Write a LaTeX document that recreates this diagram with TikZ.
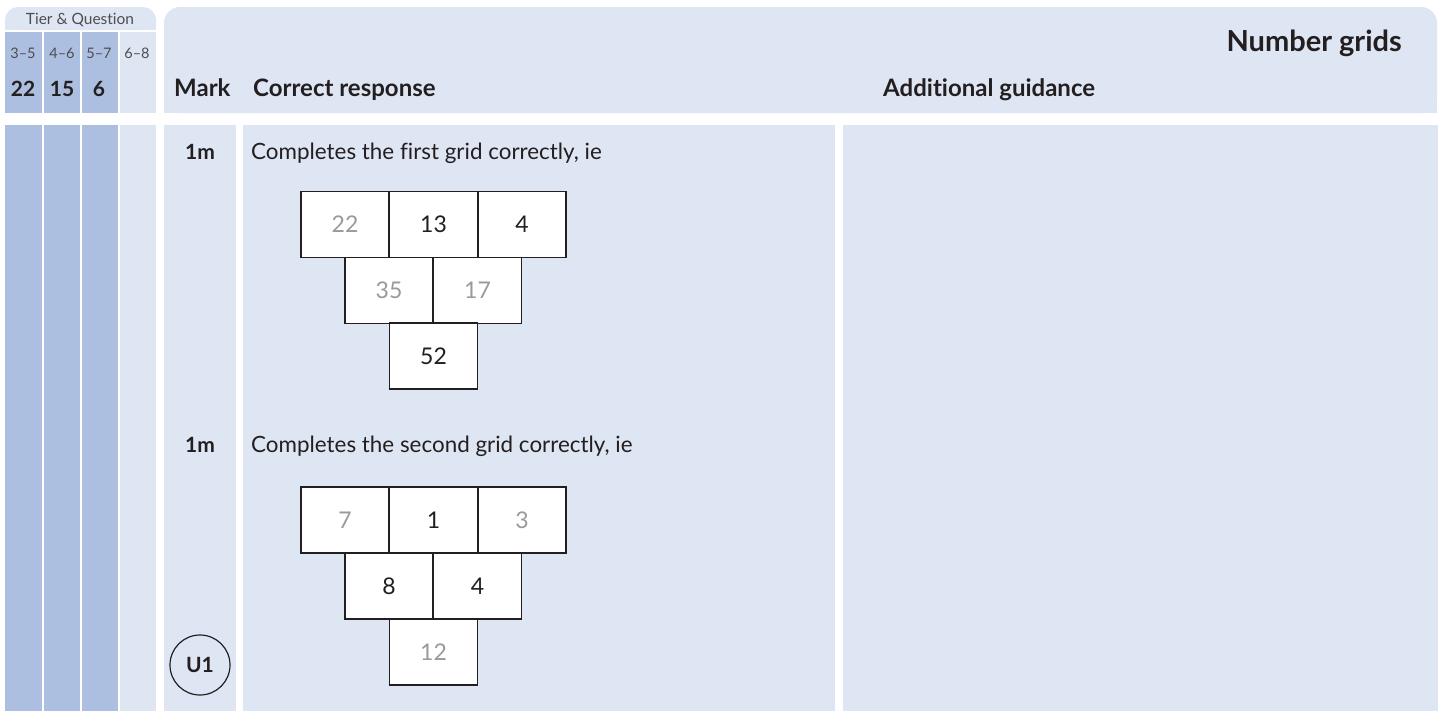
\documentclass[tikz,border=0pt]{standalone}
\usepackage{fontspec}
\setmainfont{Lato}[Ligatures=NoCommon]
\definecolor{ink}{HTML}{231F20}
\definecolor{darkblue}{HTML}{ADBFE0}
\definecolor{lightblue}{HTML}{DFE6F3}
\definecolor{greytext}{HTML}{9A9A9A}
\definecolor{tiertext}{HTML}{4D4D4F}
\begin{document}
\begin{tikzpicture}[x=1pt,y=-1pt,
  every node/.style={text=ink},
  cell/.style={draw=ink,fill=white,line width=1.8pt,minimum width=88pt,minimum height=66pt,inner sep=0pt,font=\fontsize{23}{27}\selectfont},
  given/.style={text=ink},
  answer/.style={text=greytext},
  headtext/.style={font=\fontsize{24}{28}\selectfont\bfseries,anchor=base west,inner sep=0pt},
  bodytext/.style={font=\fontsize{22.4}{26}\selectfont,anchor=base west,inner sep=0pt},
  marktext/.style={font=\fontsize{21}{25}\selectfont\bfseries,anchor=base,inner sep=0pt},
  tierlabel/.style={font=\fontsize{14.5}{17}\selectfont,text=tiertext,anchor=base,inner sep=0pt},
  tiernum/.style={font=\fontsize{21}{25}\selectfont\bfseries,anchor=base,inner sep=0pt}]
% canvas
\fill[white] (0,0) rectangle (1447,713);
\useasboundingbox (0,0) rectangle (1447,713);
% tier header cell
\fill[lightblue,rounded corners=13pt] (5,30) |- (156,7) -- (156,30) -- cycle;
\fill[lightblue] (5,20) rectangle (156,30);
% tier columns (header band)
\fill[darkblue] (5,32) rectangle (42,113);
\fill[darkblue] (44,32) rectangle (80,113);
\fill[darkblue] (82,32) rectangle (118,113);
\fill[lightblue] (120,32) rectangle (156,113);
% tier columns (body)
\fill[darkblue] (5,125) rectangle (42,711);
\fill[darkblue] (44,125) rectangle (80,711);
\fill[darkblue] (82,125) rectangle (118,711);
\fill[lightblue] (120,125) rectangle (156,711);
% main header
\fill[lightblue,rounded corners=16pt] (164,113) -- (164,7) -- (1437,7) -- (1437,113) -- cycle;
\fill[lightblue] (164,30) rectangle (1437,113);
% body columns
\fill[lightblue] (164,125) rectangle (236,711);
\fill[lightblue] (243,125) rectangle (835,711);
\fill[lightblue] (843,125) rectangle (1438,711);
% tier texts
\node[tierlabel,font=\fontsize{15.5}{18}\selectfont] (tq) at (80,24) {Tier \& Question};
\node[tierlabel] (t1) at (23,58) {3–5};
\node[tierlabel] (t2) at (62,58) {4–6};
\node[tierlabel] (t3) at (99,58) {5–7};
\node[tierlabel] (t4) at (137,58) {6–8};
\node[tiernum] (q1) at (23,96) {22};
\node[tiernum] (q2) at (62,96) {15};
\node[tiernum] (q3) at (99,96) {6};
% headings
\node[headtext] (hmark) at (174,96) {Mark};
\node[headtext] (hcorr) at (253,96) {Correct response};
\node[headtext] (hadd) at (883,96) {Additional guidance};
\node[font=\fontsize{29}{34}\selectfont\bfseries,anchor=base east,inner sep=0pt] (title) at (1402,51) {Number grids};
% marks and texts
\node[marktext] (m1) at (200,159) {1m};
\node[bodytext] (c1) at (251,159) {Completes the first grid correctly, ie};
\node[marktext] (m2) at (200,452) {1m};
\node[bodytext] (c2) at (251,452) {Completes the second grid correctly, ie};
\node[circle,draw=ink,line width=1.2pt,minimum size=60pt,inner sep=0pt,font=\fontsize{21}{25}\selectfont\bfseries] (u1) at (200,665) {U1};
% grid 1
\node[cell,answer] (a11) at (345,224.5) {22};
\node[cell,given] (a12) at (433.5,224.5) {13};
\node[cell,given] (a13) at (522,224.5) {4};
\node[cell,answer] (a21) at (389,290.5) {35};
\node[cell,answer] (a22) at (477.5,290.5) {17};
\node[cell,given] (a31) at (433.5,356) {52};
% grid 2
\node[cell,answer] (b11) at (345,520) {7};
\node[cell,given] (b12) at (433.5,520) {1};
\node[cell,answer] (b13) at (522,520) {3};
\node[cell,given] (b21) at (389,586) {8};
\node[cell,given] (b22) at (477.5,586) {4};
\node[cell,answer] (b31) at (433.5,652) {12};
\end{tikzpicture}
\end{document}
